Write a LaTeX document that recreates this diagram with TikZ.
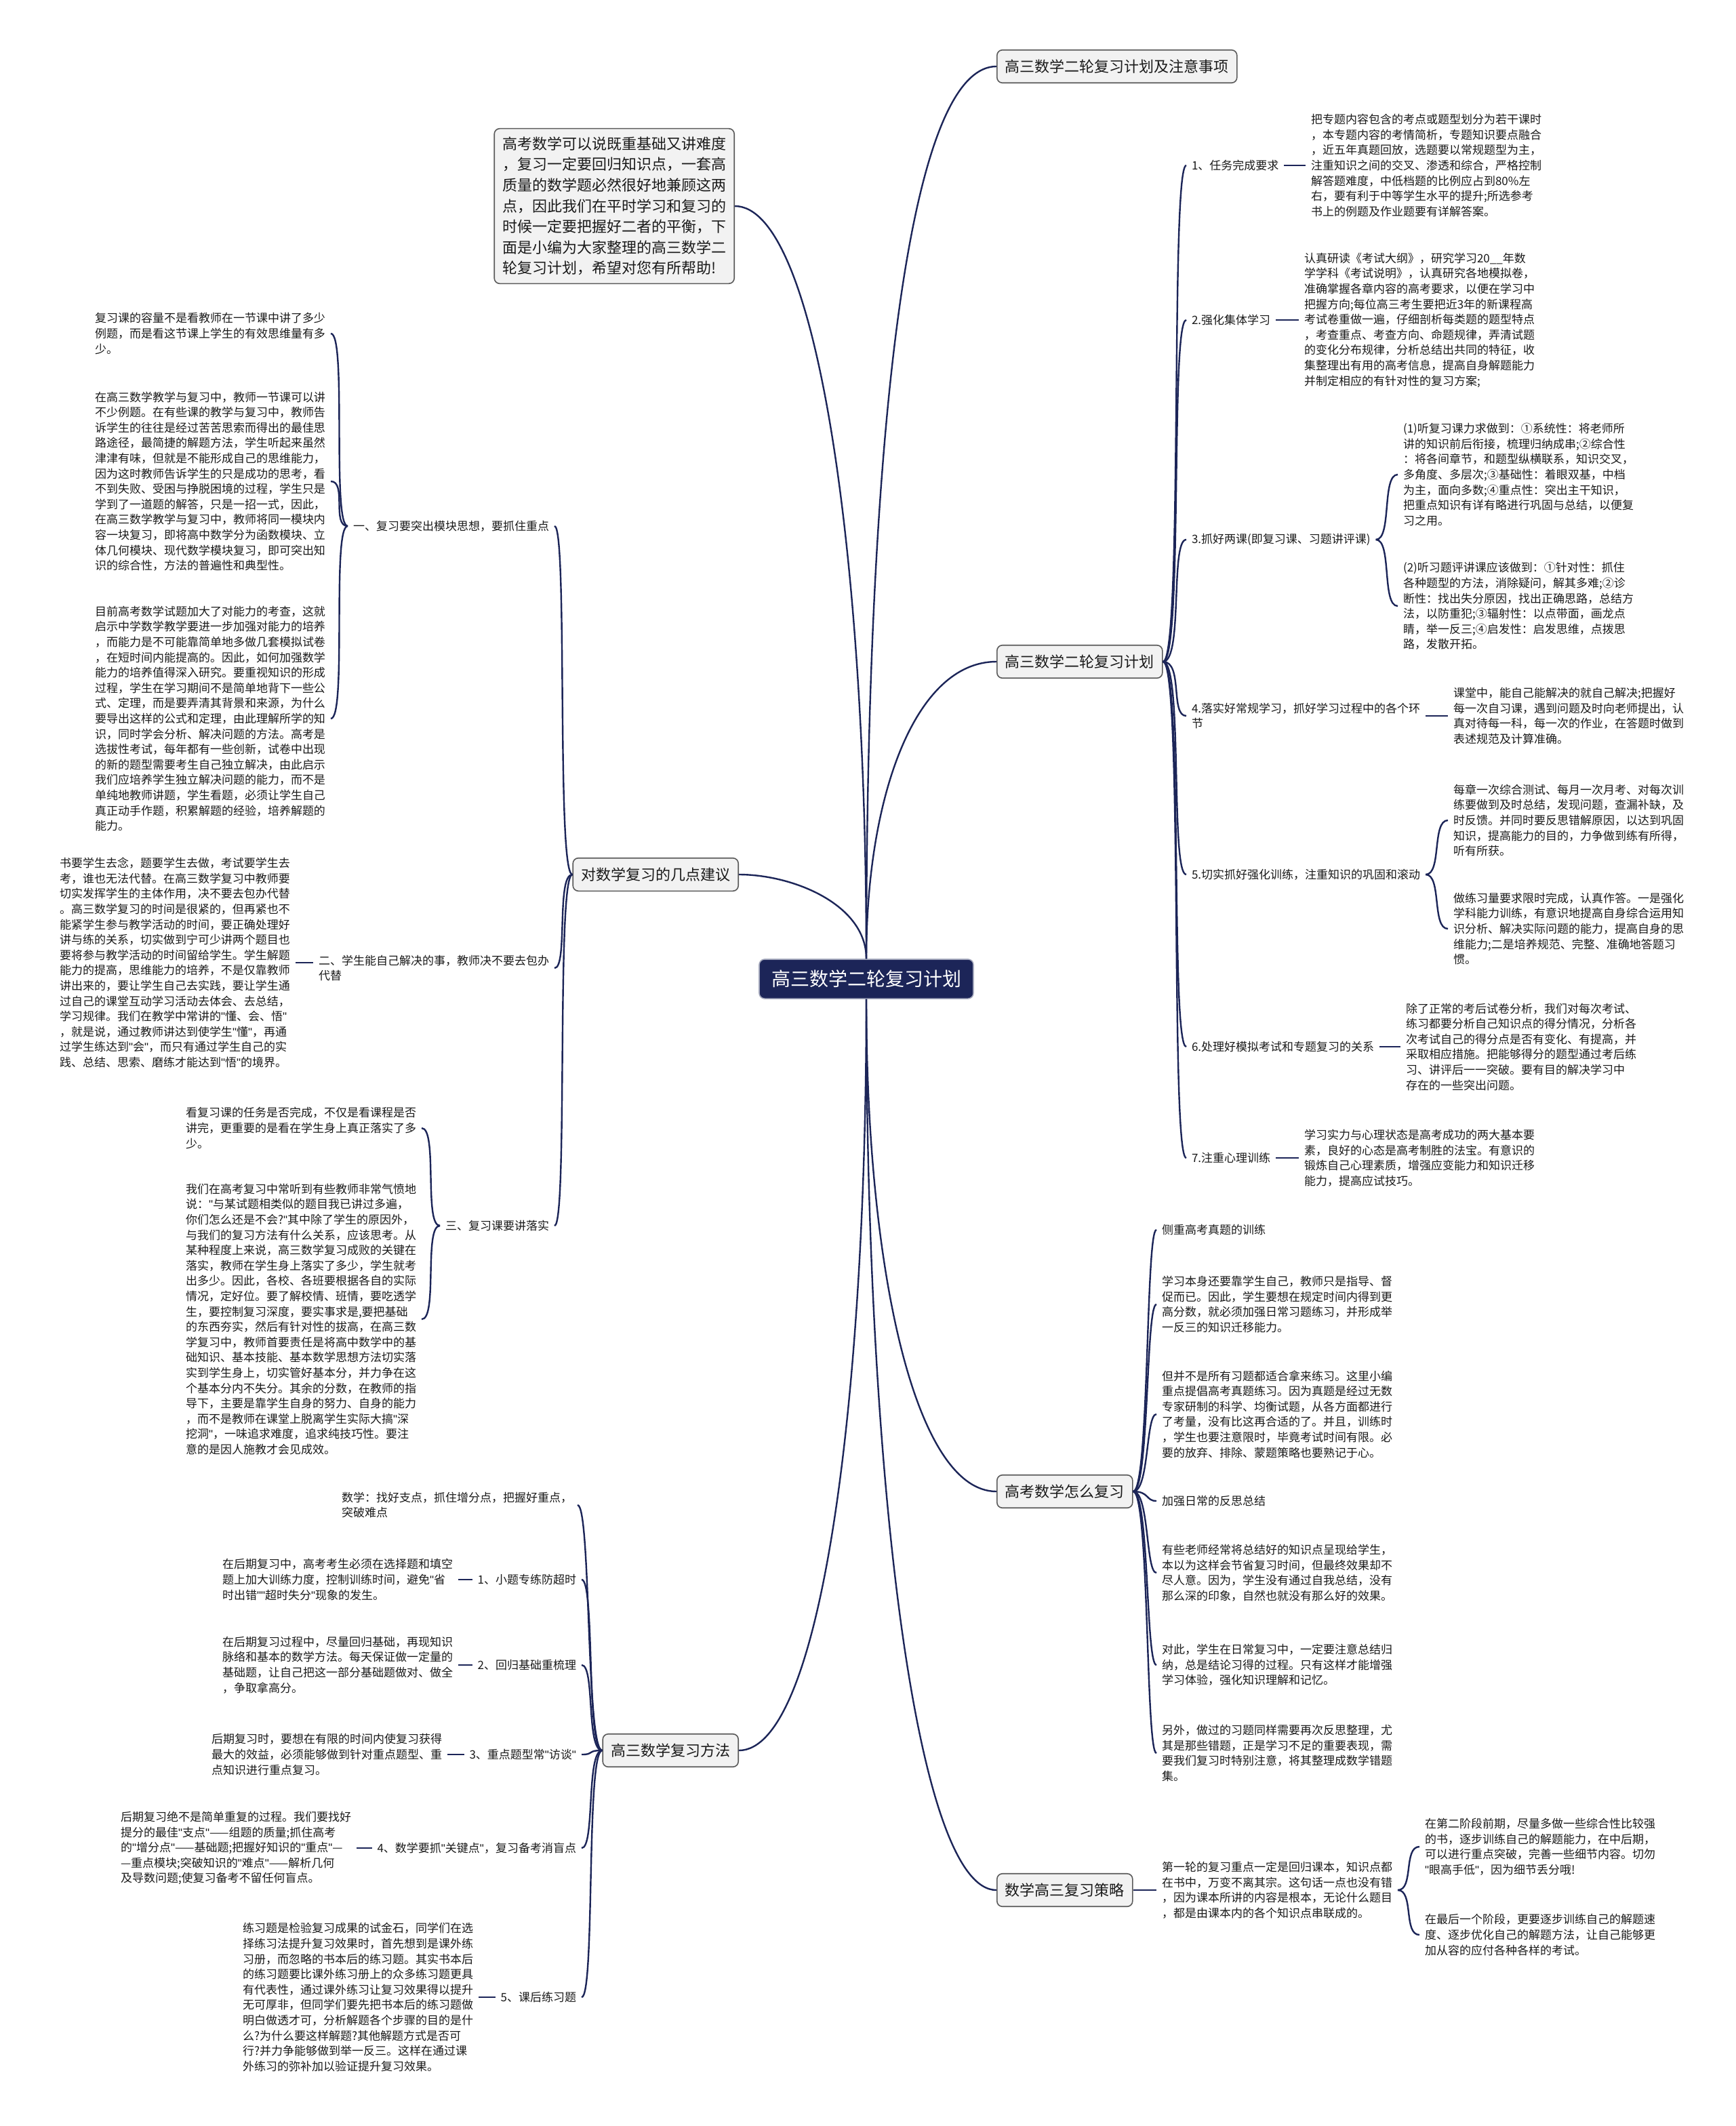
\documentclass[tikz,border=0pt]{standalone}
\usepackage{fontspec}
\setmainfont{Noto Sans CJK SC}
\newfontfamily\qfont{Liberation Sans}
\newcommand\dq{{\qfont"}}
\usepackage{tikz}
\definecolor{navy}{HTML}{1C2558}
\definecolor{boxfill}{HTML}{F2F2F2}
\definecolor{boxline}{HTML}{5A5A5A}
\definecolor{ink}{HTML}{1A1A1A}

\begin{document}
\begin{tikzpicture}[
 x=1pt, y=-1pt,
 link/.style={draw=navy, line width=1.2pt},
 root/.style={fill=navy, draw=navy!40, line width=0.8pt, rounded corners=4pt, text=white,
   font=\fontsize{14}{16}\selectfont, inner xsep=9pt, inner ysep=8pt},
 topic/.style={fill=boxfill, draw=boxline, line width=0.8pt, rounded corners=4pt, text=ink,
   font=\fontsize{11}{13}\selectfont, inner xsep=6pt, inner ysep=7pt},
 intro/.style={topic, align=left, font=\fontsize{11}{15.3}\selectfont, inner sep=6pt},
 item/.style={text=ink, font=\fontsize{8.5}{11.3}\selectfont, align=left, inner sep=0pt, outer sep=4pt},
 note/.style={item}
]
\fill[white] (0,0) rectangle (1280,1568);
\useasboundingbox (0,0) rectangle (1280,1568);

\node[root] (root) at (639,722) {高三数学二轮复习计划};

\node[intro, anchor=east] (intro) at (542,152) {高考数学可以说既重基础又讲难度\\，复习一定要回归知识点，一套高\\质量的数学题必然很好地兼顾这两\\点，因此我们在平时学习和复习的\\时候一定要把握好二者的平衡，下\\面是小编为大家整理的高三数学二\\轮复习计划，希望对您有所帮助!};

\node[topic, anchor=west] (plannote) at (735,49) {高三数学二轮复习计划及注意事项};
\node[topic, anchor=west] (plan) at (735,488) {高三数学二轮复习计划};
\node[topic, anchor=west] (howto) at (735,1100) {高考数学怎么复习};
\node[topic, anchor=west] (strategy) at (735,1394) {数学高三复习策略};
\node[topic, anchor=east] (advice) at (545,645) {对数学复习的几点建议};
\node[topic, anchor=east] (method) at (545,1291) {高三数学复习方法};

\draw[link] (root.north) .. controls +(0,-350) and +(-70,0) .. (plannote.west);
\draw[link] (root.north) .. controls +(0,-120) and +(-60,0) .. (plan.west);
\draw[link] (root.south) .. controls +(0,200) and +(-60,0) .. (howto.west);
\draw[link] (root.south) .. controls +(0,350) and +(-60,0) .. (strategy.west);
\draw[link] (root.north) .. controls +(0,-300) and +(60,0) .. (intro.east);
\draw[link] (root.north) .. controls +(0,-40) and +(40,0) .. (advice.east);
\draw[link] (root.south) .. controls +(0,300) and +(60,0) .. (method.east);

% plan
\node[item, anchor=west] (task) at (875,122) {1、任务完成要求};
\node[note, anchor=west] (taskt) at (963,122) {把专题内容包含的考点或题型划分为若干课时\\，本专题内容的考情简析，专题知识要点融合\\，近五年真题回放，选题要以常规题型为主，\\注重知识之间的交叉、渗透和综合，严格控制\\解答题难度，中低档题的比例应占到80\%左\\右，要有利于中等学生水平的提升;所选参考\\书上的例题及作业题要有详解答案。};
\node[item, anchor=west] (group) at (875,236) {2.强化集体学习};
\node[note, anchor=west] (groupt) at (958,236) {认真研读《考试大纲》，研究学习20\_\_年数\\学学科《考试说明》，认真研究各地模拟卷，\\准确掌握各章内容的高考要求，以便在学习中\\把握方向;每位高三考生要把近3年的新课程高\\考试卷重做一遍，仔细剖析每类题的题型特点\\，考查重点、考查方向、命题规律，弄清试题\\的变化分布规律，分析总结出共同的特征，收\\集整理出有用的高考信息，提高自身解题能力\\并制定相应的有针对性的复习方案;};
\node[item, anchor=west] (lesson) at (875,398) {3.抓好两课(即复习课、习题讲评课)};
\node[note, anchor=west] (lessona) at (1031,350) {(1)听复习课力求做到：①系统性：将老师所\\讲的知识前后衔接，梳理归纳成串;②综合性\\：将各间章节，和题型纵横联系，知识交叉，\\多角度、多层次;③基础性：着眼双基，中档\\为主，面向多数;④重点性：突出主干知识，\\把重点知识有详有略进行巩固与总结，以便复\\习之用。};
\node[note, anchor=west] (lessonb) at (1031,447) {(2)听习题评讲课应该做到：①针对性：抓住\\各种题型的方法，消除疑问，解其多难;②诊\\断性：找出失分原因，找出正确思路，总结方\\法，以防重犯;③辐射性：以点带面，画龙点\\睛，举一反三;④启发性：启发思维，点拨思\\路，发散开拓。};
\node[item, anchor=west] (routine) at (875,528) {4.落实好常规学习，抓好学习过程中的各个环\\节};
\node[note, anchor=west] (routinet) at (1068,528) {课堂中，能自己能解决的就自己解决;把握好\\每一次自习课，遇到问题及时向老师提出，认\\真对待每一科，每一次的作业，在答题时做到\\表述规范及计算准确。};
\node[item, anchor=west] (drill) at (875,645) {5.切实抓好强化训练，注重知识的巩固和滚动};
\node[note, anchor=west] (drilla) at (1068,605) {每章一次综合测试、每月一次月考、对每次训\\练要做到及时总结，发现问题，查漏补缺，及\\时反馈。并同时要反思错解原因，以达到巩固\\知识，提高能力的目的，力争做到练有所得，\\听有所获。};
\node[note, anchor=west] (drillb) at (1068,685) {做练习量要求限时完成，认真作答。一是强化\\学科能力训练，有意识地提高自身综合运用知\\识分析、解决实际问题的能力，提高自身的思\\维能力;二是培养规范、完整、准确地答题习\\惯。};
\node[item, anchor=west] (mock) at (875,772) {6.处理好模拟考试和专题复习的关系};
\node[note, anchor=west] (mockt) at (1033,772) {除了正常的考后试卷分析，我们对每次考试、\\练习都要分析自己知识点的得分情况，分析各\\次考试自己的得分点是否有变化、有提高，并\\采取相应措施。把能够得分的题型通过考后练\\习、讲评后一一突破。要有目的解决学习中\\存在的一些突出问题。};
\node[item, anchor=west] (mind) at (875,854) {7.注重心理训练};
\node[note, anchor=west] (mindt) at (958,854) {学习实力与心理状态是高考成功的两大基本要\\素，良好的心态是高考制胜的法宝。有意识的\\锻炼自己心理素质，增强应变能力和知识迁移\\能力，提高应试技巧。};

\foreach \c in {task,group,lesson,routine,drill,mock,mind}
 \draw[link] (plan.east) .. controls +(15,0) and +(-12,0) .. (\c.west);
\foreach \a/\b in {task/taskt,group/groupt,routine/routinet,mock/mockt,mind/mindt}
 \draw[link] (\a.east) -- (\b.west);
\foreach \c in {lessona,lessonb}
 \draw[link] (lesson.east) .. controls +(12,0) and +(-12,0) .. (\c.west);
\foreach \c in {drilla,drillb}
 \draw[link] (drill.east) .. controls +(12,0) and +(-12,0) .. (\c.west);

% howto
\node[item, anchor=west] (real) at (853,907) {侧重高考真题的训练};
\node[note, anchor=west] (realt) at (853,962) {学习本身还要靠学生自己，教师只是指导、督\\促而已。因此，学生要想在规定时间内得到更\\高分数，就必须加强日常习题练习，并形成举\\一反三的知识迁移能力。};
\node[note, anchor=west] (reals) at (853,1043) {但并不是所有习题都适合拿来练习。这里小编\\重点提倡高考真题练习。因为真题是经过无数\\专家研制的科学、均衡试题，从各方面都进行\\了考量，没有比这再合适的了。并且，训练时\\，学生也要注意限时，毕竟考试时间有限。必\\要的放弃、排除、蒙题策略也要熟记于心。};
\node[item, anchor=west] (sum) at (853,1107) {加强日常的反思总结};
\node[note, anchor=west] (sumt) at (853,1160) {有些老师经常将总结好的知识点呈现给学生，\\本以为这样会节省复习时间，但最终效果却不\\尽人意。因为，学生没有通过自我总结，没有\\那么深的印象，自然也就没有那么好的效果。};
\node[note, anchor=west] (sums) at (853,1228) {对此，学生在日常复习中，一定要注意总结归\\纳，总是结论习得的过程。只有这样才能增强\\学习体验，强化知识理解和记忆。};
\node[note, anchor=west] (sumu) at (853,1293) {另外，做过的习题同样需要再次反思整理，尤\\其是那些错题，正是学习不足的重要表现，需\\要我们复习时特别注意，将其整理成数学错题\\集。};

\foreach \c in {real,realt,reals,sum,sumt,sums,sumu}
 \draw[link] (howto.east) .. controls +(12,0) and +(-8,0) .. (\c.west);

% strategy
\node[note, anchor=west] (first) at (853,1394) {第一轮的复习重点一定是回归课本，知识点都\\在书中，万变不离其宗。这句话一点也没有错\\，因为课本所讲的内容是根本，无论什么题目\\，都是由课本内的各个知识点串联成的。};
\node[note, anchor=west] (second) at (1047,1362) {在第二阶段前期，尽量多做一些综合性比较强\\的书，逐步训练自己的解题能力，在中后期，\\可以进行重点突破，完善一些细节内容。切勿\\\dq{}眼高手低\dq{}，因为细节丢分哦!};
\node[note, anchor=west] (last) at (1047,1427) {在最后一个阶段，更要逐步训练自己的解题速\\度、逐步优化自己的解题方法，让自己能够更\\加从容的应付各种各样的考试。};

\draw[link] (strategy.east) -- (first.west);
\foreach \c in {second,last}
 \draw[link] (first.east) .. controls +(12,0) and +(-12,0) .. (\c.west);

% advice
\node[item, anchor=east] (module) at (409,388) {一、复习要突出模块思想，要抓住重点};
\node[note, anchor=west] (modulea) at (66,246) {复习课的容量不是看教师在一节课中讲了多少\\例题，而是看这节课上学生的有效思维量有多\\少。};
\node[note, anchor=west] (moduleb) at (66,355) {在高三数学教学与复习中，教师一节课可以讲\\不少例题。在有些课的教学与复习中，教师告\\诉学生的往往是经过苦苦思索而得出的最佳思\\路途径，最简捷的解题方法，学生听起来虽然\\津津有味，但就是不能形成自己的思维能力，\\因为这时教师告诉学生的只是成功的思考，看\\不到失败、受困与挣脱困境的过程，学生只是\\学到了一道题的解答，只是一招一式，因此，\\在高三数学教学与复习中，教师将同一模块内\\容一块复习，即将高中数学分为函数模块、立\\体几何模块、现代数学模块复习，即可突出知\\识的综合性，方法的普遍性和典型性。};
\node[note, anchor=west] (modulec) at (66,530) {目前高考数学试题加大了对能力的考查，这就\\启示中学数学教学要进一步加强对能力的培养\\，而能力是不可能靠简单地多做几套模拟试卷\\，在短时间内能提高的。因此，如何加强数学\\能力的培养值得深入研究。要重视知识的形成\\过程，学生在学习期间不是简单地背下一些公\\式、定理，而是要弄清其背景和来源，为什么\\要导出这样的公式和定理，由此理解所学的知\\识，同时学会分析、解决问题的方法。高考是\\选拔性考试，每年都有一些创新，试卷中出现\\的新的题型需要考生自己独立解决，由此启示\\我们应培养学生独立解决问题的能力，而不是\\单纯地教师讲题，学生看题，必须让学生自己\\真正动手作题，积累解题的经验，培养解题的\\能力。};
\node[item, anchor=east] (self) at (409,714) {二、学生能自己解决的事，教师决不要去包办\\代替};
\node[note, anchor=west] (selft) at (40,710) {书要学生去念，题要学生去做，考试要学生去\\考，谁也无法代替。在高三数学复习中教师要\\切实发挥学生的主体作用，决不要去包办代替\\。高三数学复习的时间是很紧的，但再紧也不\\能紧学生参与教学活动的时间，要正确处理好\\讲与练的关系，切实做到宁可少讲两个题目也\\要将参与教学活动的时间留给学生。学生解题\\能力的提高，思维能力的培养，不是仅靠教师\\讲出来的，要让学生自己去实践，要让学生通\\过自己的课堂互动学习活动去体会、去总结，\\学习规律。我们在教学中常讲的\dq{}懂、会、悟\dq{}\\，就是说，通过教师讲达到使学生\dq{}懂\dq{}，再通\\过学生练达到\dq{}会\dq{}，而只有通过学生自己的实\\践、总结、思索、磨练才能达到\dq{}悟\dq{}的境界。};
\node[item, anchor=east] (solid) at (409,904) {三、复习课要讲落实};
\node[note, anchor=west] (solida) at (133,832) {看复习课的任务是否完成，不仅是看课程是否\\讲完，更重要的是看在学生身上真正落实了多\\少。};
\node[note, anchor=west] (solidb) at (133,973) {我们在高考复习中常听到有些教师非常气愤地\\说：\dq{}与某试题相类似的题目我已讲过多遍，\\你们怎么还是不会?\dq{}其中除了学生的原因外，\\与我们的复习方法有什么关系，应该思考。从\\某种程度上来说，高三数学复习成败的关键在\\落实，教师在学生身上落实了多少，学生就考\\出多少。因此，各校、各班要根据各自的实际\\情况，定好位。要了解校情、班情，要吃透学\\生，要控制复习深度，要实事求是,要把基础\\的东西夯实，然后有针对性的拔高，在高三数\\学复习中，教师首要责任是将高中数学中的基\\础知识、基本技能、基本数学思想方法切实落\\实到学生身上，切实管好基本分，并力争在这\\个基本分内不失分。其余的分数，在教师的指\\导下，主要是靠学生自身的努力、自身的能力\\，而不是教师在课堂上脱离学生实际大搞\dq{}深\\挖洞\dq{}，一味追求难度，追求纯技巧性。要注\\意的是因人施教才会见成效。};

\foreach \c in {module,self,solid}
 \draw[link] (advice.west) .. controls +(-12,0) and +(10,0) .. (\c.east);
\foreach \c in {modulea,moduleb,modulec}
 \draw[link] (module.west) .. controls +(-12,0) and +(12,0) .. (\c.east);
\foreach \c in {solida,solidb}
 \draw[link] (solid.west) .. controls +(-12,0) and +(12,0) .. (\c.east);
\draw[link] (selft.east) -- (selft.east -| self.west);

% method
\node[item, anchor=east] (pivot) at (426,1110) {数学：找好支点，抓住增分点，把握好重点，\\突破难点};
\node[item, anchor=east] (small) at (429,1165) {1、小题专练防超时};
\node[note, anchor=west] (smallt) at (160,1165) {在后期复习中，高考考生必须在选择题和填空\\题上加大训练力度，控制训练时间，避免\dq{}省\\时出错\dq{}\dq{}超时失分\dq{}现象的发生。};
\node[item, anchor=east] (basic) at (429,1228) {2、回归基础重梳理};
\node[note, anchor=west] (basict) at (160,1228) {在后期复习过程中，尽量回归基础，再现知识\\脉络和基本的数学方法。每天保证做一定量的\\基础题，让自己把这一部分基础题做对、做全\\，争取拿高分。};
\node[item, anchor=east] (focus) at (429,1294) {3、重点题型常\dq{}访谈\dq{}};
\node[note, anchor=west] (focust) at (152,1294) {后期复习时，要想在有限的时间内使复习获得\\最大的效益，必须能够做到针对重点题型、重\\点知识进行重点复习。};
\node[item, anchor=east] (key) at (429,1363) {4、数学要抓\dq{}关键点\dq{}，复习备考消盲点};
\node[note, anchor=west] (keyt) at (85,1363) {后期复习绝不是简单重复的过程。我们要找好\\提分的最佳\dq{}支点\dq{}——组题的质量;抓住高考\\的\dq{}增分点\dq{}——基础题;把握好知识的\dq{}重点\dq{}—\\—重点模块;突破知识的\dq{}难点\dq{}——解析几何\\及导数问题;使复习备考不留任何盲点。};
\node[item, anchor=east] (after) at (429,1473) {5、课后练习题};
\node[note, anchor=west] (aftert) at (175,1473) {练习题是检验复习成果的试金石，同学们在选\\择练习法提升复习效果时，首先想到是课外练\\习册，而忽略的书本后的练习题。其实书本后\\的练习题要比课外练习册上的众多练习题更具\\有代表性，通过课外练习让复习效果得以提升\\无可厚非，但同学们要先把书本后的练习题做\\明白做透才可，分析解题各个步骤的目的是什\\么?为什么要这样解题?其他解题方式是否可\\行?并力争能够做到举一反三。这样在通过课\\外练习的弥补加以验证提升复习效果。};

\foreach \c in {pivot,small,basic,focus,key,after}
 \draw[link] (method.west) .. controls +(-12,0) and +(10,0) .. (\c.east);
\foreach \a/\b in {small/smallt,basic/basict,focus/focust,key/keyt,after/aftert}
 \draw[link] (\a.west) -- (\b.east);
\end{tikzpicture}
\end{document}
